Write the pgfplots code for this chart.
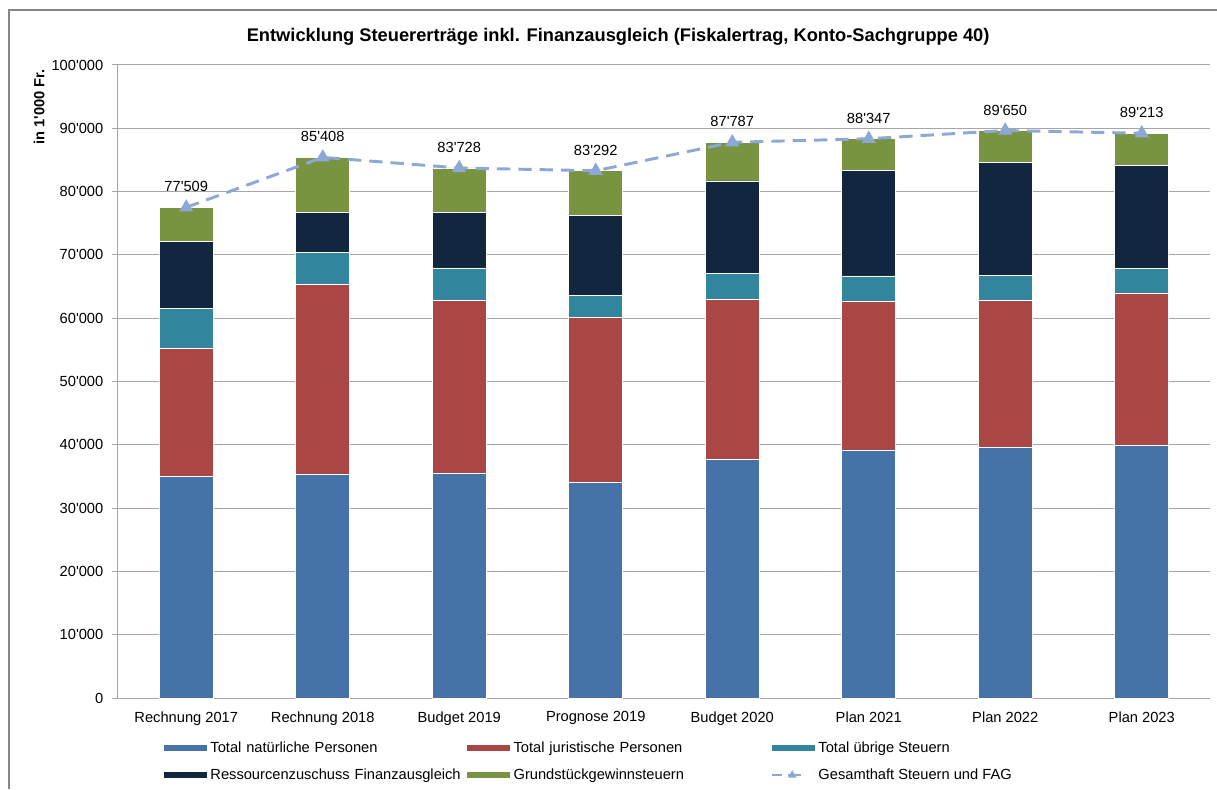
\documentclass[border=0pt]{standalone}
\usepackage{fontspec}
\setmainfont{Liberation Sans}
\usepackage{pgfplots}
\pgfplotsset{compat=1.18}
\usepackage{pgfplotstable}

\definecolor{cNat}{HTML}{4572A7}
\definecolor{cJur}{HTML}{AA4643}
\definecolor{cUeb}{HTML}{31859C}
\definecolor{cRes}{HTML}{122640}
\definecolor{cGru}{HTML}{789440}
\definecolor{cTot}{HTML}{8EA8D6}
\definecolor{cGrid}{HTML}{A6A6A6}
\definecolor{cFrame}{HTML}{868686}

\newcommand{\q}{\textquotesingle}

\pgfplotsset{
  barlegend/.style={legend image code/.code={\fill[##1] (0pt,-2.6pt) rectangle (33pt,2.6pt);}},
  linelegend/.style={legend image code/.code={%
    \path[draw=none, fill=none] (0pt,0pt) -- (33pt,0pt);
    \fill[cTot, draw=none] (0pt,-1.1pt) rectangle (7.5pt,1.1pt);
    \fill[cTot, draw=none] (12pt,-1.1pt) rectangle (22pt,1.1pt);
    \fill[cTot, draw=none] (15.5pt,3.6pt) -- (12.2pt,-2pt) -- (18.8pt,-2pt) -- cycle;}},
}

% values in 1'000 Fr.
\pgfplotstableread{
x nat jur ueb res gru tot lab
0 35020 20160 6380 10590 5359 77509 77\q509
1 35390 30010 4950 6320 8738 85408 85\q408
2 35500 27370 5060 8740 7058 83728 83\q728
3 34070 26070 3520 12590 7042 83292 83\q292
4 37760 25240 4100 14600 6087 87787 87\q787
5 39180 23480 4040 16600 5047 88347 88\q347
6 39550 23250 4000 17800 5050 89650 89\q650
7 39920 24080 3900 16200 5113 89213 89\q213
}\data

\begin{document}
\begin{tikzpicture}
\useasboundingbox (0,0) rectangle (912.75pt,591.75pt);
\draw[cFrame, line width=1pt] (6.75pt,0pt) -- (6.75pt,584.25pt) -- (912.75pt,584.25pt);

\begin{axis}[
  at={(88.5pt,68.25pt)}, anchor=south west,
  scale only axis, width=819pt, height=474.75pt,
  ybar stacked, bar width=40.5pt,
  xmin=-0.5, xmax=7.5, ymin=0, ymax=100000,
  axis lines*=left,
  axis line style={cGrid, line width=0.75pt},
  tick style={cGrid, line width=0.75pt},
  tick align=outside,
  major tick length=4.5pt,
  xtick={0,...,7},
  xticklabels={Rechnung 2017,Rechnung 2018,Budget 2019,Prognose 2019,Budget 2020,Plan 2021,Plan 2022,Plan 2023},
  major x tick style={draw=none},
  extra x ticks={-0.5,0.5,...,7.5},
  extra x tick labels={},
  extra x tick style={grid=none, tick style={cGrid, line width=0.75pt}},
  ytick={0,10000,20000,30000,40000,50000,60000,70000,80000,90000,100000},
  yticklabels={0,10\q000,20\q000,30\q000,40\q000,50\q000,60\q000,70\q000,80\q000,90\q000,100\q000},
  scaled y ticks=false,
  ymajorgrids,
  grid style={cGrid, line width=0.75pt},
  tick label style={font=\fontsize{11}{13}\selectfont},
  xticklabel style={yshift=-2pt},
  yticklabel style={xshift=-3pt},
  ylabel={in 1\q000 Fr.},
  ylabel style={at={(rel axis cs:-0.0723,0.934)}, anchor=center, font=\bfseries\fontsize{11}{13}\selectfont},
  title={Entwicklung Steuererträge inkl. Finanzausgleich (Fiskalertrag, Konto-Sachgruppe 40)},
  title style={at={(rel axis cs:0.458,1.0458)}, anchor=center, yshift=-6.75pt, font=\bfseries\fontsize{13.7}{16}\selectfont},
  legend columns=3,
  legend cell align=left,
  legend style={draw=none, fill=none, at={(rel axis cs:0.0375,-0.0597)}, anchor=north west,
    font=\fontsize{11}{13}\selectfont, row sep=7pt,
    /tikz/column 2/.style={text width=190pt},
    /tikz/column 4/.style={text width=191.25pt}},
  barlegend,
]
\addplot[fill=cNat, draw=white, line width=0.4pt] table[x=x,y=nat]{\data};
\addlegendentry{Total natürliche Personen}
\addplot[fill=cJur, draw=white, line width=0.4pt] table[x=x,y=jur]{\data};
\addlegendentry{Total juristische Personen}
\addplot[fill=cUeb, draw=white, line width=0.4pt] table[x=x,y=ueb]{\data};
\addlegendentry{Total übrige Steuern}
\addplot[fill=cRes, draw=white, line width=0.4pt] table[x=x,y=res]{\data};
\addlegendentry{\mbox{Ressourcenzuschuss Finanzausgleich}}
\addplot[fill=cGru, draw=white, line width=0.4pt] table[x=x,y=gru]{\data};
\addlegendentry{Grundstückgewinnsteuern}
\addlegendimage{linelegend}
\addlegendentry{Gesamthaft Steuern und FAG}
\end{axis}

\begin{axis}[
  at={(88.5pt,68.25pt)}, anchor=south west,
  scale only axis, width=819pt, height=474.75pt,
  xmin=-0.5, xmax=7.5, ymin=0, ymax=100000,
  hide axis, clip=false,
]
\addplot[cTot, line width=2.2pt, dash pattern=on 10pt off 6pt, mark=triangle*, mark size=4pt, mark options={solid},
  point meta=explicit symbolic, nodes near coords,
  every node near coord/.append style={black, font=\fontsize{11}{13}\selectfont, yshift=7pt}]
  table[x=x,y=tot,meta=lab]{\data};
\end{axis}
\end{tikzpicture}
\end{document}
